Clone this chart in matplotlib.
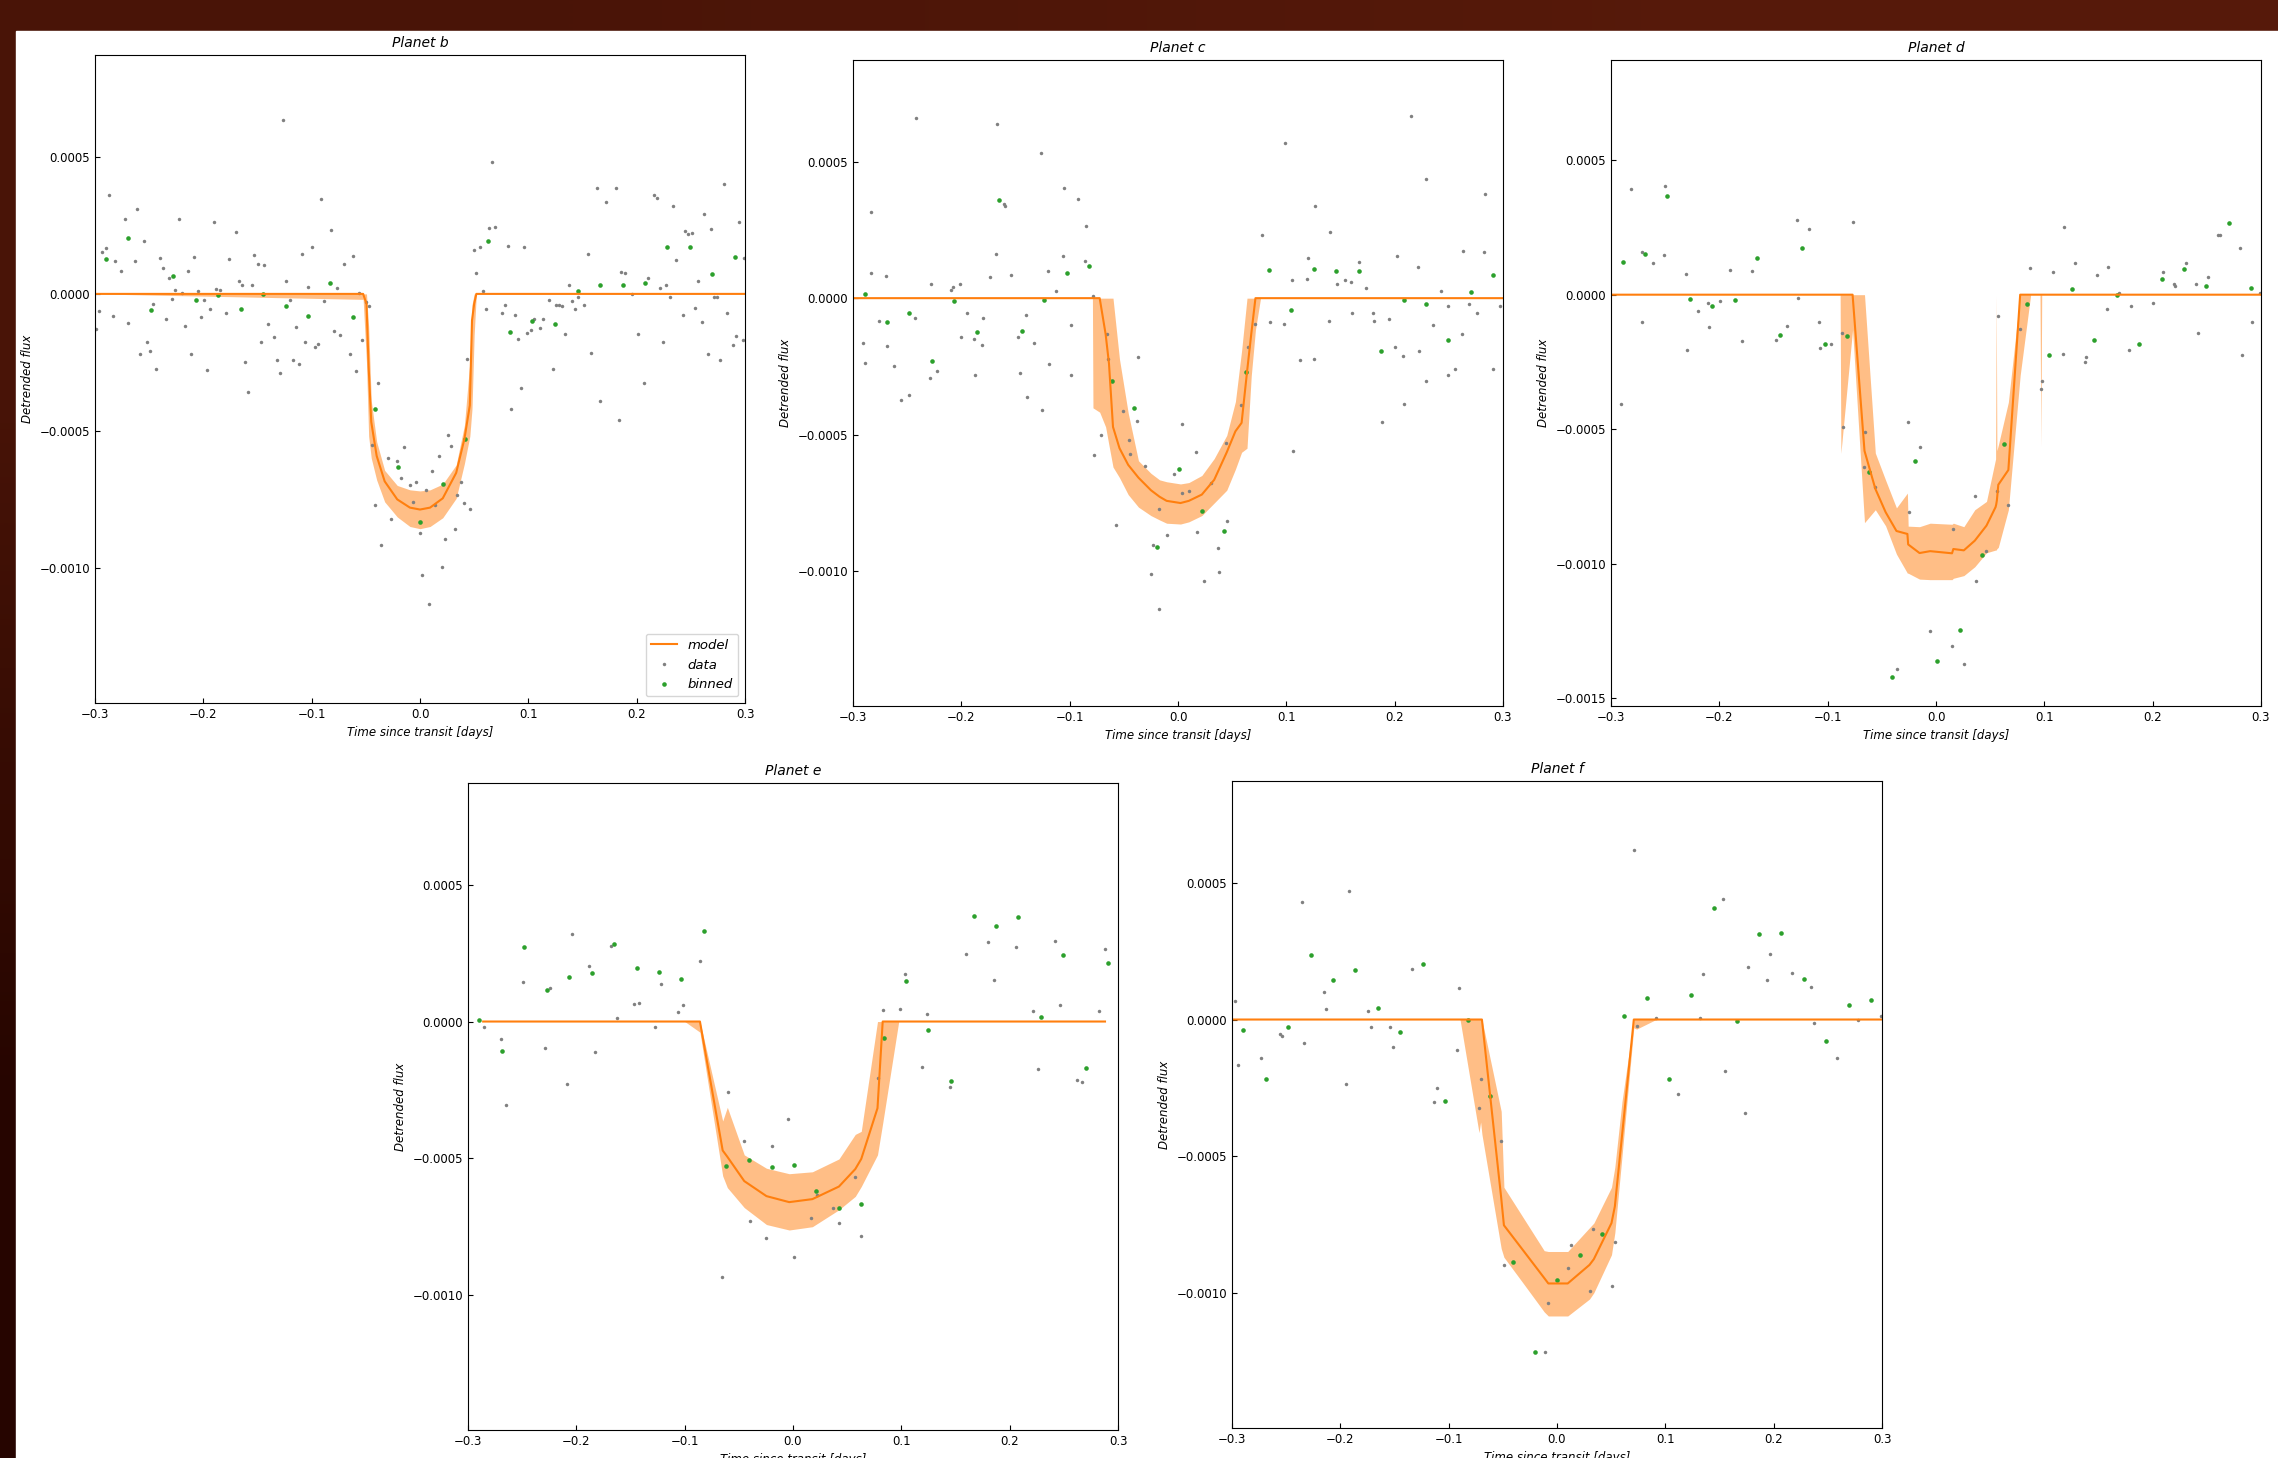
import numpy as np
import matplotlib
matplotlib.use("Agg")
import matplotlib.pyplot as plt
from matplotlib.patches import Rectangle

plt.rcParams['font.family'] = ['DejaVu Sans']
plt.rcParams['font.size'] = 8.5

# ---------------- data (time in days, flux in ppm) ----------------
# Planet b
data_b_x = [-0.2993, -0.2962, -0.2931, -0.290, -0.2872, -0.2838, -0.2814, -0.2756, -0.2725, -0.2698,
            -0.2635, -0.2612, -0.2581, -0.255, -0.2519, -0.2495, -0.2464, -0.2433, -0.2402, -0.2375,
            -0.2344, -0.2317, -0.2286, -0.2258, -0.2227, -0.220, -0.2169, -0.2138, -0.2111, -0.2083,
            -0.2052, -0.2025, -0.1994, -0.1963, -0.1936, -0.1905, -0.1881, -0.185, -0.1792, -0.1761,
            -0.1703, -0.1675, -0.1644, -0.1613, -0.1586, -0.1555, -0.1528, -0.1496, -0.1469, -0.1438,
            -0.1407, -0.1349, -0.1318, -0.129, -0.1263, -0.1236, -0.1201, -0.1174, -0.1147, -0.1116,
            -0.1088, -0.1057, -0.103, -0.0999, -0.0968, -0.0941, -0.0913, -0.0882, -0.0824, -0.0793,
            -0.0766, -0.0735, -0.0704, -0.0649, -0.0618, -0.0591, -0.056, -0.0533, -0.0501, -0.0474,
            -0.0385, -0.0443, -0.0412, -0.0358, -0.0295, -0.0268, -0.021, -0.0179, -0.0152, -0.0093,
            -0.0062, -0.0035, -0.0004, 0.0023, 0.0054, 0.0086, 0.0113, 0.014, 0.0171, 0.0202,
            0.0229, 0.0257, 0.0288, 0.0319, 0.0346, 0.0377, 0.0404, 0.0435, 0.0463, 0.0494,
            0.0521, 0.0552, 0.0579, 0.061, 0.0637, 0.0669, 0.0696, 0.0758, 0.0785, 0.0816,
            0.0843, 0.0875, 0.0902, 0.0933, 0.096, 0.0991, 0.1022, 0.1049, 0.1112, 0.1135,
            0.1193, 0.1224, 0.1256, 0.1283, 0.1314, 0.1341, 0.1372, 0.1399, 0.143, 0.1462,
            0.1516, 0.1547, 0.1574, 0.1633, 0.1664, 0.1718, 0.1807, 0.1839, 0.1858, 0.1889,
            0.1955, 0.201, 0.2072, 0.2103, 0.2161, 0.2188, 0.2219, 0.2247, 0.2274, 0.2305,
            0.2336, 0.2363, 0.2425, 0.2449, 0.2476, 0.2511, 0.2538, 0.2569, 0.260, 0.2624,
            0.2659, 0.2686, 0.2717, 0.2744, 0.2771, 0.2803, 0.283, 0.2888, 0.2915, 0.2942,
            0.2977, 0.2995]
data_b_y = [-128, -62, 153, 169, 363, -79, 119, 83, 272, -105,
            121, 312, -218, 193, -175, -209, -37, -274, 131, 93,
            -93, 59, -17, 15, 274, 5, -117, 83, -221, 136,
            12, -85, -22, -277, -54, 264, 19, 14, -71, 128,
            227, 46, 31, -250, -359, 31, 142, 108, -176, 104,
            -110, -158, -241, -289, 637, 46, -22, -240, -122, -255,
            145, -175, 26, 173, -193, -182, 348, -25, 235, -136,
            20, -152, 108, -218, 139, -283, 2, -167, -31, -43,
            -326, -552, -770, -917, -600, -824, -611, -674, -561, -697,
            -762, -688, -872, -1028, -717, -1132, -649, -773, -592, -997,
            -895, -516, -557, -860, -734, -688, -765, -237, -785, 159,
            77, 172, 9, -56, 240, 481, 244, -68, -42, 175,
            -419, -77, -165, -345, 170, -144, -131, -90, -125, -93,
            -22, -275, -42, -40, -45, -147, 34, -25, -54, -11,
            -42, 144, -216, 388, -391, 337, 388, -462, 80, 77,
            -2, -147, -325, 57, 363, 349, 20, -175, 31, -12,
            322, 125, -77, 230, 220, 224, -51, 46, -102, 292,
            -218, 238, -12, -12, -241, 400, -70, -187, -155, 261,
            -170, 133]
bin_b_x = [-0.290, -0.2694, -0.2484, -0.2278, -0.2068, -0.1862, -0.1656, -0.145, -0.124, -0.1034,
           -0.0828, -0.0618, -0.0412, -0.0206, 0.0004, 0.021, 0.0416, 0.0626, 0.0832, 0.1038,
           0.1244, 0.1454, 0.166, 0.187, 0.2076, 0.2282, 0.2488, 0.2697, 0.2904]
bin_b_y = [128, 203, -59, 65, -22, -3, -56, -2, -46, -79,
           39, -85, -421, -631, -833, -694, -529, 195, -138, -99,
           -110, 12, 34, 31, 39, 173, 173, 71, 136]
model_b_x = [-0.300, -0.0525, -0.0494, -0.0474, -0.0450, -0.0400, -0.0326, -0.0210, -0.0093, 0.0,
             0.0093, 0.0210, 0.0334, 0.0410, 0.0460, 0.0480, 0.0500, 0.0520, 0.300]
model_b_y = [0, 0, -36, -267, -468, -592, -685, -751, -781, -788,
             -781, -747, -654, -530, -407, -97, -36, 0, 0]
model_b_hi = [0, 0, 0, -120, -390, -540, -645, -700, -716, -720,
              -716, -695, -625, -480, -250, -40, 0, 0, 0]
model_b_lo = [0, -20, -250, -520, -600, -680, -760, -815, -850, -858,
              -850, -818, -747, -620, -520, -420, -150, 0, 0]

# Planet c
data_c_x = [-0.2907, -0.2892, -0.283, -0.2834, -0.2764, -0.2698, -0.269, -0.262, -0.2558, -0.2484,
            -0.2426, -0.2418, -0.2293, -0.2282, -0.2223, -0.2091, -0.208, -0.2013, -0.2006, -0.1944,
            -0.1881, -0.1874, -0.1811, -0.1804, -0.1737, -0.1679, -0.1671, -0.1609, -0.1601, -0.1539,
            -0.1473, -0.1462, -0.1403, -0.1395, -0.1333, -0.1267, -0.1259, -0.1197, -0.1189, -0.1123,
            -0.1061, -0.1053, -0.0987, -0.0987, -0.0921, -0.0859, -0.0847, -0.0789, -0.0777, -0.0715,
            -0.0653, -0.0645, -0.0575, -0.0509, -0.0451, -0.0439, -0.0381, -0.0373, -0.0307, -0.0245,
            -0.0233, -0.0171, -0.0179, -0.0105, -0.0035, 0.0035, 0.0035, 0.0101, 0.0163, 0.0171,
            0.0237, 0.0303, 0.0365, 0.0377, 0.0439, 0.0451, 0.0579, 0.0645, 0.0715, 0.0777,
            0.0847, 0.0983, 0.0991, 0.1053, 0.1061, 0.1123, 0.1189, 0.1197, 0.1259, 0.1263,
            0.1395, 0.1403, 0.1465, 0.1539, 0.1594, 0.1605, 0.1667, 0.1737, 0.180, 0.1807,
            0.1881, 0.1947, 0.2006, 0.2017, 0.208, 0.2087, 0.2149, 0.2212, 0.2223, 0.2286,
            0.2289, 0.2356, 0.2425, 0.2492, 0.2492, 0.2558, 0.262, 0.2632, 0.269, 0.2764,
            0.2826, 0.2834, 0.2904, 0.297]
data_c_y = [-166, -237, 314, 91, -84, 80, -175, -249, -373, -354,
            -74, 661, -291, 51, -268, 29, 42, 51, -142, -54,
            -149, -283, -172, -71, 76, 161, 638, 345, 339, 84,
            -142, -274, -62, -361, -163, 531, -410, 98, -241, 26,
            153, 402, -99, -283, 362, 138, 266, 8, -576, -500,
            -133, -224, -831, -415, -520, -570, -450, -215, -615, -1011,
            -906, -774, -1141, -868, -644, -461, -715, -706, -563, -858,
            -1037, -676, -915, -1005, -531, -816, -390, -178, -96, 232,
            -88, -93, 567, 67, -562, -226, 71, 146, -223, 336,
            -84, 243, 53, 67, 59, -53, 133, 36, -54, -84,
            -454, -77, -180, 156, -212, -389, 669, 115, -195, 435,
            -302, -98, 25, -28, -282, -260, -133, 173, -20, -54,
            170, 382, -260, -28]
bin_c_x = [-0.2892, -0.2686, -0.248, -0.227, -0.2064, -0.1854, -0.1648, -0.1442, -0.1236, -0.1026,
           -0.082, -0.061, -0.0404, -0.0198, 0.0008, 0.0218, 0.0424, 0.063, 0.084, 0.1046,
           0.1252, 0.1462, 0.1667, 0.1877, 0.2083, 0.2289, 0.2495, 0.2705, 0.2911]
bin_c_y = [15, -88, -54, -229, -9, -125, 359, -121, -6, 94,
           119, -303, -402, -912, -628, -779, -855, -271, 105, -43,
           108, 101, 98, -194, -5, -22, -155, 23, 85]
model_c_x = [-0.300, -0.0790, -0.0785, -0.0723, -0.0668, -0.0637, -0.0600, -0.0540, -0.0460, -0.0365,
             -0.0250, -0.0170, -0.0105, 0.0023, 0.0100, 0.0220, 0.0334, 0.0450, 0.0530, 0.0587,
             0.0637, 0.0676, 0.0715, 0.0762, 0.300]
model_c_y = [0, 0, 0, 0, -132, -240, -472, -550, -611, -658,
             -704, -728, -743, -751, -743, -720, -666, -565, -488, -457,
             -271, -132, 0, 0, 0]
model_c_hi = [0, 0, 0, 0, 0, 0, 0, -224, -420, -596,
              -642, -666, -673, -681, -676, -650, -588, -503, -379, -193,
              0, 0, 0, 0, 0]
model_c_lo = [0, 0, -402, -418, -472, -540, -619, -658, -720, -766,
              -797, -813, -825, -828, -820, -797, -751, -704, -627, -565,
              -550, -286, -116, 0, 0]

# Planet d
data_d_x = [-0.2911, -0.2814, -0.2717, -0.2713, -0.2608, -0.2511, -0.2503, -0.2309, -0.2297, -0.220,
            -0.2107, -0.2091, -0.1998, -0.1901, -0.1792, -0.1695, -0.1481, -0.138, -0.1287, -0.1271,
            -0.1174, -0.1081, -0.1069, -0.0972, -0.0867, -0.0863, -0.0766, -0.0669, -0.0657, -0.056,
            -0.0358, -0.026, -0.0249, -0.0152, -0.0058, 0.0148, 0.0159, 0.0257, 0.0358, 0.0365,
            0.0466, 0.056, 0.0571, 0.0669, 0.0774, 0.0871, 0.0968, 0.098, 0.1077, 0.117,
            0.1182, 0.1279, 0.1376, 0.1388, 0.1485, 0.1582, 0.159, 0.1691, 0.1784, 0.180,
            0.2002, 0.2099, 0.220, 0.2208, 0.2305, 0.2398, 0.2414, 0.2511, 0.2604, 0.262,
            0.281, 0.2822, 0.2919, 0.2995]
data_d_y = [-406, 393, 160, -103, 118, 146, 406, 77, -205, -60,
            -30, -122, -25, 92, -171, 88, -168, -116, 276, -14,
            244, -103, -197, -185, -143, -494, 271, -642, -511, -715,
            -1393, -473, -809, -566, -1252, -1308, -873, -1374, -749, -1064,
            -954, -732, -80, -782, -127, 99, -351, -320, 86, -219,
            252, 118, -251, -232, 75, -53, 103, 6, -204, -41,
            -30, 83, 38, 31, 119, 38, -141, 64, 223, 223,
            172, -223, -102, 6]
bin_d_x = [-0.2892, -0.2686, -0.248, -0.2274, -0.2064, -0.1858, -0.1652, -0.1442, -0.1236, -0.1026,
           -0.082, -0.0614, -0.0404, -0.0198, 0.0008, 0.0218, 0.0424, 0.063, 0.0836, 0.1046,
           0.1252, 0.1462, 0.1667, 0.1874, 0.2083, 0.2289, 0.2495, 0.2705, 0.2911]
bin_d_y = [122, 152, 367, -17, -41, -20, 138, -150, 172, -182,
           -152, -660, -1423, -617, -1362, -1249, -968, -556, -34, -223,
           22, -168, -3, -183, 60, 96, 33, 265, 25]
model_d_x = [-0.300, -0.0885, -0.0878, -0.0770, -0.0660, -0.0560, -0.0465, -0.0365, -0.0264, -0.0257,
             -0.0152, -0.0054, 0.0148, 0.0160, 0.0257, 0.0358, 0.0466, 0.0550, 0.0556, 0.0562,
             0.0575, 0.0668, 0.0777, 0.0874, 0.0960, 0.0968, 0.0976, 0.300]
model_d_y = [0, 0, 0, 0, -581, -722, -809, -879, -890, -929,
             -961, -954, -962, -946, -951, -915, -859, -790, -780, -765,
             -707, -652, 0, 0, 0, 0, 0, 0]
model_d_hi = [0, 0, 0, 0, 0, -589, -690, -793, -738, -861,
              -863, -850, -854, -850, -863, -800, -769, -611, 0, -580,
              -560, -400, 0, 0, 0, 0, 0, 0]
model_d_lo = [0, 0, -590, -130, -848, -800, -860, -965, -1036, -1036,
              -1058, -1060, -1060, -1055, -1045, -1012, -960, -950, -950, -945,
              -940, -800, -300, 0, 0, -566, 0, 0]

# Planet e
data_e_x = [-0.2853, -0.2698, -0.2651, -0.2495, -0.2289, -0.2243, -0.2087, -0.2037, -0.1881, -0.1831,
            -0.1679, -0.1625, -0.1469, -0.1423, -0.1271, -0.1217, -0.1061, -0.1015, -0.0859, -0.0653,
            -0.0602, -0.0451, -0.0396, -0.0245, -0.0194, -0.0043, 0.0012, 0.0163, 0.0218, 0.0373,
            0.0424, 0.0575, 0.063, 0.0781, 0.0832, 0.0987, 0.1034, 0.1189, 0.124, 0.145,
            0.1601, 0.1804, 0.1858, 0.206, 0.2216, 0.2262, 0.2418, 0.2468, 0.262, 0.267,
            0.2826, 0.2876]
data_e_y = [-19, -65, -305, 146, -96, 122, -229, 320, 204, -110,
            276, 14, 65, 67, -19, 138, 36, 59, 223, -935,
            -257, -438, -729, -794, -454, -358, -861, -720, -635, -683,
            -737, -570, -785, -207, 42, 45, 175, -167, 29, -238,
            246, 291, 153, 272, 39, -175, 293, 59, -215, -223,
            39, 265]
bin_e_x = [-0.2896, -0.2686, -0.248, -0.227, -0.2064, -0.1858, -0.1652, -0.1442, -0.1236, -0.103,
           -0.082, -0.0614, -0.0404, -0.0198, 0.0008, 0.0214, 0.0424, 0.063, 0.0836, 0.1042,
           0.1248, 0.1458, 0.1667, 0.1874, 0.208, 0.2289, 0.2495, 0.2705, 0.2911]
bin_e_y = [6, -108, 274, 115, 163, 176, 282, 197, 183, 156,
           330, -528, -508, -534, -525, -619, -683, -667, -62, 150,
           -31, -218, 387, 350, 381, 17, 243, -170, 215]
model_e_x = [-0.286, -0.0999, -0.0859, -0.0649, -0.0606, -0.0450, -0.0245, -0.0035, 0.0179, 0.0424,
             0.0575, 0.0630, 0.0780, 0.0828, 0.0976, 0.288]
model_e_y = [0, 0, 0, -472, -495, -584, -639, -661, -650, -604,
             -540, -503, -317, 0, 0, 0]
model_e_hi = [0, 0, 0, -364, -314, -488, -537, -557, -550, -503,
              -413, -402, 0, 0, 0, 0]
model_e_lo = [0, 0, -39, -565, -608, -681, -743, -763, -751, -689,
              -640, -604, -488, -372, 0, 0]

# Planet f
data_f_x = [-0.2973, -0.2941, -0.2736, -0.2561, -0.2538, -0.2355, -0.2332, -0.2153, -0.213, -0.1947,
            -0.1924, -0.1742, -0.1714, -0.154, -0.1512, -0.1334, -0.1132, -0.1105, -0.0926, -0.0903,
            -0.072, -0.0697, -0.0514, -0.0491, -0.008, -0.0107, 0.0099, 0.0126, 0.0301, 0.0328,
            0.0507, 0.0534, 0.0709, 0.0736, 0.0914, 0.112, 0.1322, 0.1349, 0.1528, 0.1555,
            0.1734, 0.1761, 0.194, 0.1967, 0.2173, 0.2347, 0.2374, 0.258, 0.2782, 0.2988]
data_f_y = [66, -165, -139, -54, -60, 429, -85, 100, 39, -236,
            469, 32, -29, -29, -99, 184, -302, -252, -111, 114,
            -323, -218, -446, -898, -1039, -1216, -910, -827, -995, -765,
            -977, -816, 622, -23, 6, -273, 6, 168, 440, -190,
            -343, 194, 145, 239, 170, 120, -11, -139, 0, 12]
bin_f_x = [-0.2895, -0.2689, -0.2483, -0.2274, -0.2068, -0.1862, -0.1656, -0.1446, -0.1241, -0.1035,
           -0.0825, -0.0619, -0.041, -0.0204, 0.0002, 0.0208, 0.0417, 0.0623, 0.0829, 0.1035,
           0.1241, 0.145, 0.166, 0.1866, 0.2072, 0.2277, 0.2483, 0.2693, 0.2899]
bin_f_y = [-40, -218, -28, 235, 144, 181, 42, -46, 204, -299,
           -2, -279, -886, -1218, -954, -861, -784, 14, 79, -219,
           88, 409, -5, 313, 316, 148, -80, 54, 71]
model_f_x = [-0.300, -0.0895, -0.0720, -0.0705, -0.0693, -0.0515, -0.0490, -0.0320, -0.0118, -0.0080,
             0.0099, 0.0300, 0.0340, 0.0503, 0.0534, 0.0600, 0.0709, 0.0735, 0.0914, 0.300]
model_f_y = [0, 0, 0, 0, 0, -653, -753, -841, -946, -966,
             -966, -898, -877, -745, -684, -426, 0, 0, 0, 0]
model_f_hi = [0, 0, 0, 0, 0, -336, -614, -720, -846, -849,
              -849, -762, -745, -614, -540, -300, 0, 0, 0, 0]
model_f_lo = [0, 0, -414, -375, -420, -838, -870, -961, -1070, -1085,
              -1085, -1023, -1000, -861, -780, -500, -30, -35, 0, 0]

# ---------------- figure ----------------
W, H = 2278, 1458
fig = plt.figure(figsize=(W / 100, H / 100), dpi=100)

# dark frame of the screenshot
bg = fig.add_axes([0, 0, 1, 1], zorder=-10)
grad = np.array([[[0.29, 0.08, 0.03], [0.34, 0.10, 0.04]],
                 [[0.15, 0.02, 0.00], [0.20, 0.05, 0.02]]])
bg.imshow(grad, extent=[0, 1, 0, 1], aspect='auto', interpolation='bilinear')
bg.add_patch(Rectangle((16 / W, 0), 1, 1 - 31 / H, color='white', zorder=5))
bg.set_xlim(0, 1)
bg.set_ylim(0, 1)
bg.axis('off')


def box(left, top, right, bottom):
    return [left / W, 1 - bottom / H, (right - left) / W, (bottom - top) / H]


def panel(rect, title, dx, dy, bx, by, mx, my, mlo, mhi, ylim, legend=False):
    ax = fig.add_axes(rect)
    ppm = 1e-6
    ax.plot(dx, np.array(dy) * ppm, 'o', color='gray', ms=2.5, mew=0, label='data')
    ax.plot(bx, np.array(by) * ppm, 'o', color='C2', ms=3.3, mew=0, label='binned')
    ax.fill_between(mx, np.array(mlo) * ppm, np.array(mhi) * ppm, color='C1', alpha=0.5, lw=0)
    ax.plot(mx, np.array(my) * ppm, color='C1', lw=1.5, label='model')
    ax.set_xlim(-0.3, 0.3)
    ax.set_ylim(*ylim)
    ax.set_title(title, style='italic', fontsize=10)
    ax.set_xlabel('Time since transit [days]', style='italic')
    ax.set_ylabel('Detrended flux', style='italic')
    ax.tick_params(direction='in', top=False, right=False)
    if legend:
        h, l = ax.get_legend_handles_labels()
        ax.legend([h[2], h[0], h[1]], [l[2], l[0], l[1]], loc='lower right',
                  prop={'style': 'italic', 'size': 9.5})
    return ax


ylim_std = (-0.001495, 0.000873)
panel(box(95, 55, 745, 703), 'Planet b', data_b_x, data_b_y, bin_b_x, bin_b_y,
      model_b_x, model_b_y, model_b_lo, model_b_hi, ylim_std, legend=True)
panel(box(853, 60, 1503, 706), 'Planet c', data_c_x, data_c_y, bin_c_x, bin_c_y,
      model_c_x, model_c_y, model_c_lo, model_c_hi, ylim_std)
panel(box(1611, 60, 2261, 706), 'Planet d', data_d_x, data_d_y, bin_d_x, bin_d_y,
      model_d_x, model_d_y, model_d_lo, model_d_hi, (-0.00153, 0.000873))
panel(box(468, 783, 1118, 1430), 'Planet e', data_e_x, data_e_y, bin_e_x, bin_e_y,
      model_e_x, model_e_y, model_e_lo, model_e_hi, ylim_std)
panel(box(1232, 781, 1882, 1428), 'Planet f', data_f_x, data_f_y, bin_f_x, bin_f_y,
      model_f_x, model_f_y, model_f_lo, model_f_hi, ylim_std)

fig.savefig('out.png', dpi=100)
